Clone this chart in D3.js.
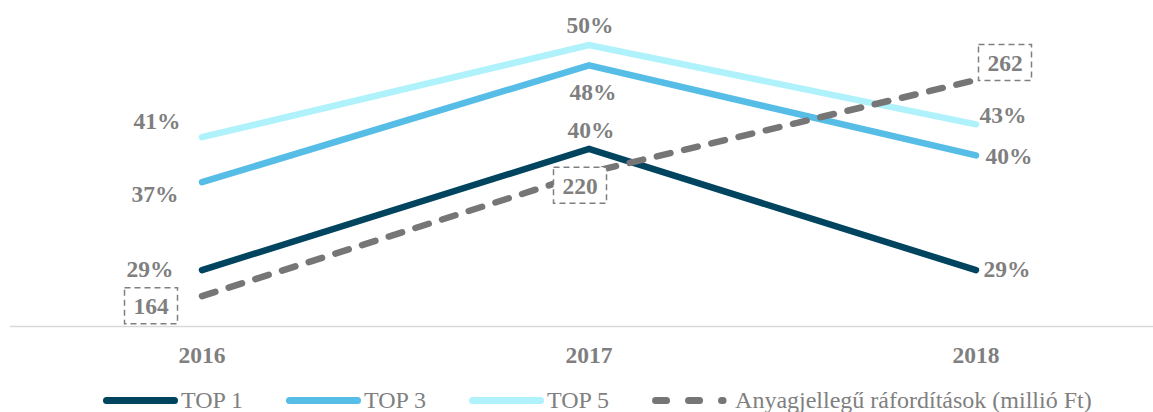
<!DOCTYPE html>
<html>
<head>
<meta charset="utf-8">
<script src="https://cdn.jsdelivr.net/npm/d3@7"></script>
<style>
  html, body { margin: 0; padding: 0; background: #fff; }
  svg { display: block; }
</style>
</head>
<body>
<div id="chart"></div>
<script>
// adatok
const years = ['2016', '2017', '2018'];
const top1 = [0.290, 0.403, 0.290];
const top3 = [0.372, 0.481, 0.397];
const top5 = [0.414, 0.500, 0.426];
const costs = [164, 220, 262];
const seriesNames = ['TOP 1', 'TOP 3', 'TOP 5', 'Anyagjellegű ráfordítások (millió Ft)'];

const width = 1153;
const height = 412;
const grey = '#7f7f7f';
const font = '"Liberation Serif", "Times New Roman", serif';

const svg = d3.select('#chart')
    .append('svg')
    .attr('width', width)
    .attr('height', height);

// skálák
const x = d3.scaleBand().domain(years).range([8.5, 1169.5]);
const cx = d => x(d) + x.bandwidth() / 2;
const yPct = d3.scaleLinear().domain([0.25, 0.5]).range([313, 45]);
const yAmt = d3.scaleLinear().domain([150, 262]).range([327, 80]);

// vízszintes tengely
svg.append('line')
    .attr('x1', 10).attr('x2', width)
    .attr('y1', 326.5).attr('y2', 326.5)
    .attr('stroke', '#d9d9d9')
    .attr('stroke-width', 1.3);

svg.append('g')
    .selectAll('text')
    .data(years)
    .join('text')
    .attr('x', d => cx(d))
    .attr('y', 363)
    .attr('text-anchor', 'middle')
    .attr('font-family', font)
    .attr('font-weight', 'bold')
    .attr('font-size', 23.5)
    .attr('fill', grey)
    .text(d => d);

// vonalak
const pctSeries = [
    { name: seriesNames[0], values: top1, color: '#00445f' },
    { name: seriesNames[1], values: top3, color: '#56bde6' },
    { name: seriesNames[2], values: top5, color: '#aff2fc' }
];

const pctLine = d3.line()
    .x((d, i) => cx(years[i]))
    .y(d => yPct(d));

svg.append('g')
    .selectAll('path')
    .data(pctSeries.slice().reverse())
    .join('path')
    .attr('d', d => pctLine(d.values))
    .attr('fill', 'none')
    .attr('stroke', d => d.color)
    .attr('stroke-width', 6.5)
    .attr('stroke-linecap', 'round')
    .attr('stroke-linejoin', 'miter');

const amtLine = d3.line()
    .x((d, i) => cx(years[i]))
    .y(d => yAmt(d));

svg.append('path')
    .attr('d', amtLine(costs))
    .attr('fill', 'none')
    .attr('stroke', '#767676')
    .attr('stroke-width', 6.5)
    .attr('stroke-linecap', 'round')
    .attr('stroke-dasharray', '14,14');

// százalék címkék (eltolás a ponthoz képest: [dx, dy])
const pctOffsets = [
    [[-52, 7], [2, -11], [31, 7]],
    [[-47, 20], [4, 35], [33, 9]],
    [[-45, -8], [1, -12], [27, -1]]
];

pctSeries.forEach((s, si) => {
    svg.append('g')
        .selectAll('text')
        .data(s.values)
        .join('text')
        .attr('x', (d, i) => cx(years[i]) + pctOffsets[si][i][0])
        .attr('y', (d, i) => yPct(d) + pctOffsets[si][i][1])
        .attr('text-anchor', 'middle')
        .attr('font-family', font)
        .attr('font-weight', 'bold')
        .attr('font-size', 23.5)
        .attr('fill', grey)
        .text(d => d3.format('.0%')(d));
});

// költség címkék keretben
const amtOffsets = [[-51, 9], [-9, 12], [29, -18]];

const amtLabels = svg.append('g')
    .selectAll('g')
    .data(costs)
    .join('g')
    .attr('transform', (d, i) =>
        `translate(${cx(years[i]) + amtOffsets[i][0]},${yAmt(d) + amtOffsets[i][1]})`);

amtLabels.append('rect')
    .attr('x', -26.5).attr('y', -17.5)
    .attr('width', 53).attr('height', 36)
    .attr('fill', '#fff')
    .attr('stroke', grey)
    .attr('stroke-width', 1.5)
    .attr('stroke-dasharray', '6,4');

amtLabels.append('text')
    .attr('y', 9)
    .attr('text-anchor', 'middle')
    .attr('font-family', font)
    .attr('font-weight', 'bold')
    .attr('font-size', 23.5)
    .attr('fill', grey)
    .text(d => d);

// jelmagyarázat
const legendItems = [
    { name: seriesNames[0], color: '#00445f', dash: null },
    { name: seriesNames[1], color: '#56bde6', dash: null },
    { name: seriesNames[2], color: '#aff2fc', dash: null },
    { name: seriesNames[3], color: '#767676', dash: '11,22' }
];

const legend = svg.append('g').attr('transform', 'translate(0,400.5)');
let lx = 103;
legendItems.forEach((item, i) => {
    const g = legend.append('g');
    g.append('line')
        .attr('x1', lx + 3.5)
        .attr('x2', lx + (item.dash ? 71 : 71.5))
        .attr('y1', 0).attr('y2', 0)
        .attr('stroke', item.color)
        .attr('stroke-width', 7)
        .attr('stroke-linecap', 'round')
        .attr('stroke-dasharray', item.dash);
    const t = g.append('text')
        .attr('x', lx + (item.dash ? 83 : 78))
        .attr('y', 7.5)
        .attr('font-family', font)
        .attr('font-size', 24)
        .attr('fill', grey)
        .text(item.name);
    const w = t.node().getComputedTextLength();
    lx = lx + (item.dash ? 83 : 78) + w + 43;
});
</script>
</body>
</html>
